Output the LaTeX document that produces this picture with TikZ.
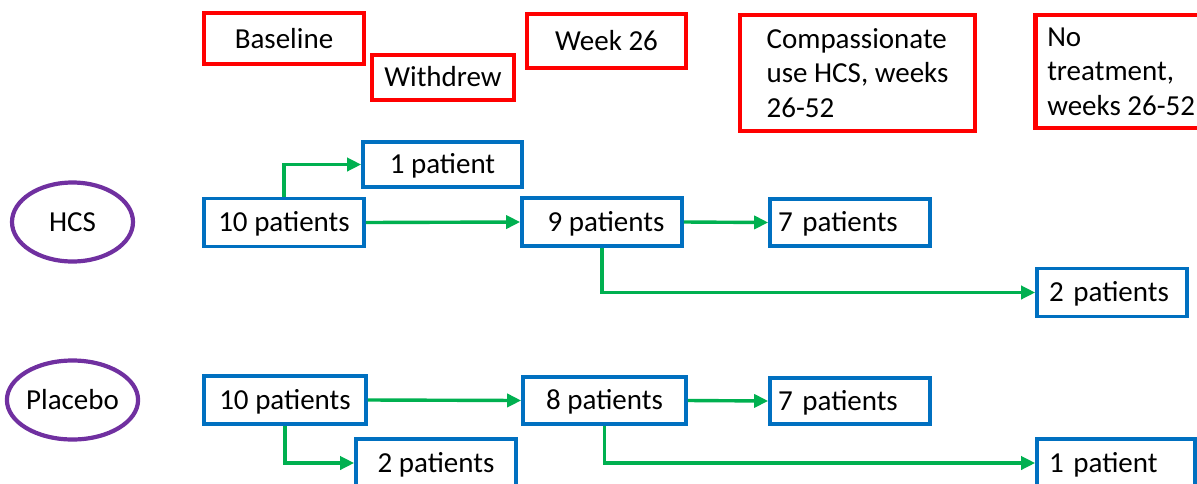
\documentclass[tikz,border=0pt]{standalone}
\usepackage{fontspec}
\setmainfont{Carlito}
\usetikzlibrary{arrows.meta,shapes.geometric}
\definecolor{cred}{RGB}{255,0,0}
\definecolor{cblue}{RGB}{0,112,192}
\definecolor{cgreen}{RGB}{0,176,80}
\definecolor{cpurple}{RGB}{112,48,160}
\begin{document}
\begin{tikzpicture}[x=1pt,y=-1pt,
  every node/.style={font=\fontsize{29}{34.5}\selectfont, text=black},
  redbox/.style={draw=cred, line width=4.5pt, inner sep=0pt},
  bluebox/.style={draw=cblue, line width=3.6pt, inner sep=0pt, text depth=2pt},
  arm/.style={draw=cpurple, line width=4.2pt, ellipse, inner sep=0pt, minimum width=121pt, minimum height=79pt},
  flow/.style={draw=cgreen, line width=3.4pt, -{Triangle[length=14pt,width=13pt]}},
  lefttext/.style={align=left, inner xsep=#1}
]
\useasboundingbox (0,0) rectangle (1197,483);
\begin{scope}
\clip (0,0) rectangle (1197,483);
% header boxes
\node[redbox, minimum width=160pt, minimum height=51pt] (base) at (284,38.5) {Baseline};
\node[redbox, minimum width=142pt, minimum height=45pt, text depth=2pt] (withdrew) at (443,77.5) {Withdrew};
\node[redbox, minimum width=159pt, minimum height=54pt] (week) at (606.5,41) {Week 26};
\node[redbox, minimum width=235pt, minimum height=116pt, align=left] (comp) at (857.5,73) {Compassionate\\use HCS, weeks\\26-52};
\node[redbox, minimum height=113pt, lefttext=12pt, anchor=west] (notreat) at (1033,71.5) {No\\treatment,\\weeks 26-52\hspace*{20pt}};
% arms
\node[arm] (hcs) at (72.5,222) {HCS};
\node[arm] (plac) at (72.5,400) {Placebo};
% HCS row
\node[bluebox, minimum width=159pt, minimum height=45pt] (h1) at (442.5,164.5) {1 patient};
\node[bluebox, minimum width=160pt, minimum height=48pt] (h10) at (284,222.5) {10 patients};
\node[bluebox, minimum width=160pt, minimum height=48pt] (h9) at (602,222) {\hspace*{8pt}9 patients};
\node[bluebox, minimum height=47pt, text width=144pt, lefttext=8pt] (h7) at (850,222.5) {7 patients};
\node[bluebox, minimum height=48pt, text width=126pt, lefttext=12pt] (h2) at (1112,292.5) {2 patients};
% Placebo row
\node[bluebox, minimum width=162pt, minimum height=48pt] (p10) at (285,400) {10 patients};
\node[bluebox, minimum width=160pt, minimum height=48pt] (p2) at (436,463) {2 patients};
\node[bluebox, minimum width=163pt, minimum height=47pt] (p8) at (604.5,400.5) {8 patients};
\node[bluebox, minimum height=46pt, text width=144pt, lefttext=8pt] (p7) at (850,401) {7 patients};
\node[bluebox, minimum height=48pt, text width=134pt, lefttext=12pt] (p1) at (1116,463) {1 patient};
% connectors HCS
\draw[flow] (h10.north) |- (h1.west);
\draw[flow] (h10.east) -- (h9.west);
\draw[flow] (h9.east) -- (h7.west);
\draw[flow] (h9.south) |- (h2.west);
% connectors Placebo
\draw[flow] (p10.east) -- (p8.west);
\draw[flow] (p8.east) -- (p7.west);
\draw[flow] (p10.south) |- (p2.west);
\draw[flow] (p8.south) |- (p1.west);
\end{scope}
\end{tikzpicture}
\end{document}
